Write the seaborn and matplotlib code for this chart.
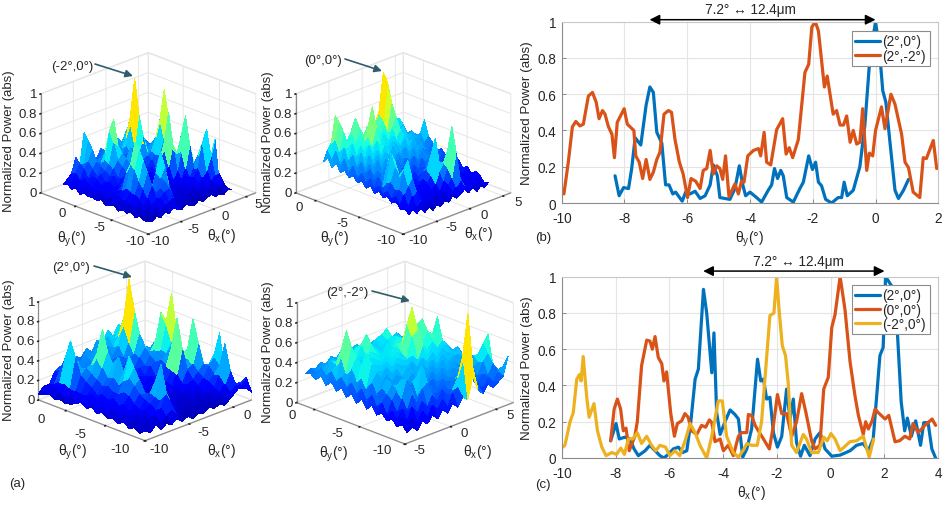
import numpy as np
import matplotlib
matplotlib.use("Agg")
import matplotlib.pyplot as plt
from matplotlib.colors import Normalize
from mpl_toolkits.mplot3d import proj3d
import seaborn as sns

# ---------- panel (b) ----------
b_blue_x = [-8.3,-8.17,-8.03,-7.87,-7.77,-7.66,-7.48,-7.31,-7.19,-7.08,-6.97,-6.81,-6.69,-6.58,-6.46,-6.37,-6.16,-6.05,-5.91,-5.75,-5.59,-5.43,-5.27,-5.17,-5.04,-4.96,-4.8,-4.64,-4.48,-4.34,-4.23,-4.14,-4,-3.79,-3.63,-3.42,-3.31,-3.22,-3.12,-3.02,-2.94,-2.83,-2.62,-2.41,-2.3,-2.13,-2.01,-1.91,-1.82,-1.72,-1.59,-1.4,-1.19,-1.08,-1,-.9,-.71,-.5,-.34,-.18,0,.12,.23,.33,.46,.62,.73,.89,1.05]
b_blue_y = [.15,.04,.085,.08,.19,.36,.32,.54,.64,.61,.39,.33,.10,.10,.05,.06,.01,.06,.05,.065,.025,.04,.10,.21,.15,.03,.025,.02,.08,.205,.10,.04,.06,.03,.005,.07,.10,.19,.135,.18,.15,.03,.005,.08,.115,.26,.185,.225,.115,.095,.02,0,.03,.03,.115,.04,.07,.2,.43,.8,1,.85,.62,.555,.335,.07,.025,.07,.13]
b_orange_x = [-10,-9.93,-9.79,-9.66,-9.55,-9.42,-9.31,-9.15,-9.02,-8.9,-8.81,-8.7,-8.62,-8.51,-8.4,-8.32,-8.23,-8.01,-7.91,-7.7,-7.64,-7.53,-7.42,-7.31,-7.19,-7.08,-6.97,-6.87,-6.74,-6.6,-6.5,-6.39,-6.25,-6.13,-5.99,-5.88,-5.73,-5.59,-5.49,-5.38,-5.27,-5.17,-5.06,-4.96,-4.87,-4.78,-4.67,-4.48,-4.37,-4.27,-4.19,-4.07,-3.89,-3.73,-3.66,-3.55,-3.47,-3.34,-3.15,-2.96,-2.85,-2.75,-2.64,-2.46,-2.25,-2.13,-2.03,-1.92,-1.82,-1.63,-1.54,-1.35,-1.24,-1.13,-1.02,-.92,-.81,-.71,-.6,-.5,-.41,-.28,-.2,-.09,0,.19,.3,.49,.62,.83,.94,1.05,1.2,1.41,1.52,1.62,1.84,1.95]
b_orange_y = [.06,.05,.225,.42,.45,.425,.435,.59,.61,.555,.465,.51,.49,.42,.38,.25,.445,.52,.435,.4,.26,.225,.135,.24,.13,.17,.24,.28,.49,.51,.5,.35,.225,.16,.03,.135,.12,.08,.18,.19,.29,.16,.205,.19,.13,.26,.035,.105,.05,.12,.115,.26,.29,.3,.26,.39,.225,.21,.405,.465,.27,.305,.25,.35,.72,.765,.97,1.0,.95,.64,.7,.49,.51,.43,.43,.48,.335,.4,.325,.335,.52,.18,.275,.26,.4,.53,.41,.6,.545,.38,.225,.195,.06,.03,.25,.245,.345,.19]

# ---------- panel (c) ----------
c_blue_x = [-8.18,-7.98,-7.86,-7.65,-7.46,-7.31,-7.15,-6.9,-6.72,-6.59,-6.35,-6.2,-6.04,-5.85,-5.66,-5.51,-5.35,-5.2,-5.04,-4.92,-4.73,-4.61,-4.42,-4.34,-4.24,-4.11,-3.93,-3.74,-3.56,-3.43,-3.27,-3.12,-2.94,-2.88,-2.72,-2.6,-2.5,-2.38,-2.26,-2.13,-1.98,-1.82,-1.64,-1.51,-1.39,-1.27,-1.12,-.98,-.77,-.58,-.4,-.21,.04,.35,.72,.96,1.21,1.4,1.58,1.7,1.83,1.95,2.04,2.26,2.48,2.62,2.75,2.85,3,3.16,3.34,3.46,3.62,3.76,3.9]
c_blue_y = [.095,.19,.105,.115,.105,.05,.013,.04,.07,.05,.013,0,.02,.05,.06,.03,.04,.2,.435,.49,.93,.8,.47,.69,.25,.13,.2,.265,.24,.215,.005,.05,.16,.26,.545,.425,.435,.325,.335,.14,.06,.12,.38,.215,.325,.085,.01,.07,.013,.105,.14,.05,.01,.016,.04,.07,.08,.04,.105,.325,.565,.61,1.0,.95,.69,.31,.15,.22,.12,.205,.07,.195,.195,.05,0]
c_orange_x = [-8.18,-8.05,-7.93,-7.81,-7.71,-7.61,-7.49,-7.28,-7.19,-7.03,-6.84,-6.72,-6.63,-6.53,-6.41,-6.28,-6.2,-6.1,-5.95,-5.81,-5.7,-5.54,-5.42,-5.3,-5.17,-4.98,-4.8,-4.65,-4.51,-4.42,-4.3,-4.11,-3.99,-3.81,-3.62,-3.43,-3.31,-3.12,-3.06,-2.94,-2.81,-2.69,-2.5,-2.28,-2.13,-1.98,-1.82,-1.64,-1.45,-1.27,-1.08,-.92,-.71,-.58,-.4,-.26,-.09,.04,.16,.35,.53,.72,.9,1.03,1.21,1.3,1.4,1.54,1.65,1.77,2.02,2.16,2.39,2.56,2.76,2.94,3.06,3.25,3.5,3.77,3.9]
c_orange_y = [.095,.27,.325,.27,.15,.165,.04,.12,.2,.51,.65,.645,.6,.67,.555,.52,.425,.475,.25,.12,.19,.205,.245,.225,.15,.13,.18,.17,.21,.195,.09,.105,.04,.07,.013,.12,.14,.14,.24,.235,.18,.15,.105,.05,.18,.35,.245,.245,.12,.2,.355,.25,.095,.05,.07,.38,.445,.72,.79,1.0,.82,.53,.345,.235,.13,.2,.16,.205,.27,.25,.215,.235,.09,.095,.12,.105,.19,.14,.18,.215,.18]
c_yellow_x = [-10,-9.88,-9.69,-9.57,-9.44,-9.34,-9.28,-9.2,-9.07,-8.98,-8.8,-8.67,-8.51,-8.35,-8.14,-7.96,-7.8,-7.67,-7.52,-7.36,-7.19,-7.03,-6.84,-6.66,-6.5,-6.35,-6.14,-5.98,-5.79,-5.61,-5.39,-5.23,-5.04,-4.86,-4.61,-4.42,-4.18,-4.03,-3.87,-3.62,-3.43,-3.22,-3.12,-2.94,-2.73,-2.57,-2.26,-2.11,-2.01,-1.92,-1.8,-1.68,-1.58,-1.45,-1.27,-1.02,-.9,-.71,-.46,-.26,-.13,.01,.16,.35,.72,.96,1.21,1.43,1.6]
c_yellow_y = [.055,.07,.2,.25,.435,.46,.425,.56,.335,.225,.3,.15,.06,.013,.03,.02,.055,.02,.105,.105,.14,.08,.12,.07,.04,.07,.06,.013,.04,.013,.105,.19,.14,.07,0,.12,.315,.315,.12,.03,.005,.05,.08,.07,.07,.2,.785,.8,1.0,.82,.62,.565,.415,.07,.03,.13,.105,.03,.03,.115,.095,.135,.105,.04,.09,.095,.12,.005,.105]

# ---------- surfaces: normalized power in percent, rows = theta_y, columns = theta_x ----------
surf_m2_0 = [
[6,4,8,5,9,6,10,7,5,9,6,4,8,5,7,9,5,6,4,8,6],
[5,9,6,11,7,12,14,16,8,6,10,7,5,9,6,8,11,7,9,12,5],
[8,6,12,9,14,18,22,24,13,9,7,11,8,6,10,12,7,13,10,20,8],
[5,11,7,13,10,16,24,30,20,10,12,7,10,8,13,9,14,8,12,16,6],
[9,6,12,10,16,26,18,32,42,22,9,13,7,12,9,15,11,16,22,34,50],
[6,10,8,14,24,38,20,36,55,30,14,10,12,9,14,10,16,24,48,60,30],
[8,12,10,18,30,48,22,18,34,16,11,14,8,13,10,18,14,22,34,40,16],
[5,9,13,20,40,58,26,14,16,12,15,9,12,10,16,12,22,44,24,16,10],
[9,12,11,22,44,65,30,16,12,14,10,14,11,15,12,20,38,72,30,14,8],
[7,10,14,18,34,42,24,12,15,11,13,10,16,12,24,44,34,50,24,16,11],
[6,13,10,15,20,26,16,14,11,16,12,15,13,18,40,75,36,24,18,12,7],
[10,8,14,12,16,18,14,18,22,14,16,13,18,16,28,44,30,20,22,14,9],
[7,12,11,16,13,15,20,24,30,26,18,16,14,20,18,30,44,62,28,16,10],
[9,14,13,12,18,22,18,28,34,45,24,18,22,18,24,28,60,90,40,20,8],
[8,11,16,14,16,20,26,32,38,30,22,26,20,24,26,30,42,58,30,18,11],
[10,13,12,18,22,24,30,50,45,24,28,22,26,30,45,28,34,30,24,16,9],
[7,15,14,20,18,26,32,60,70,34,26,30,28,36,65,34,30,26,22,18,12],
[12,10,18,16,24,30,28,36,44,30,32,26,34,55,100,50,36,30,26,20,10],
[9,16,14,24,30,40,26,30,28,34,28,36,30,40,60,36,42,34,28,22,14],
[13,12,20,28,26,48,30,24,30,26,34,30,38,32,38,44,38,46,30,24,11],
[10,14,18,33,24,55,28,26,24,32,28,38,30,36,30,40,46,42,36,20,13]]
surf_0_0 = [
[10,14,8,12,6,10,5,9,6,10,7,12,8,11,14,9,13,7,11,8,12],
[14,9,16,10,14,8,12,7,13,6,11,9,13,16,22,14,10,12,8,14,10],
[12,18,11,20,24,12,16,10,9,14,8,13,17,24,48,20,12,15,10,13,15],
[18,13,22,30,36,18,14,12,16,10,15,11,20,32,72,30,18,11,14,12,18],
[15,20,26,44,52,22,18,13,10,15,12,18,30,36,46,24,16,18,12,16,14],
[20,16,24,36,40,26,15,18,14,11,17,24,60,34,30,28,20,14,17,13,20],
[17,22,30,42,34,20,22,14,18,15,20,28,42,26,32,22,18,20,15,19,16],
[22,18,28,55,46,28,18,22,15,20,16,24,28,32,24,28,24,16,22,16,23],
[18,24,22,40,38,32,26,20,24,18,24,18,26,22,30,25,20,26,18,24,18],
[24,20,30,28,34,26,34,28,22,26,20,28,22,32,26,34,30,22,28,20,25],
[20,28,24,32,28,36,28,32,36,24,30,24,34,28,36,28,24,32,24,28,22],
[26,22,34,26,40,30,38,34,30,38,26,32,28,38,30,36,32,26,34,22,28],
[22,30,28,36,32,42,34,42,36,32,36,30,40,32,40,30,38,30,26,32,24],
[28,24,38,30,42,34,44,36,46,34,42,34,32,44,34,42,32,36,32,26,30],
[24,34,30,44,36,48,38,50,44,48,36,44,38,36,46,36,40,30,36,30,35],
[30,26,42,38,48,40,46,42,60,40,46,36,46,40,48,42,34,40,32,38,50],
[26,38,34,50,42,50,40,52,80,50,40,48,38,50,60,38,44,34,40,34,30],
[34,30,46,44,46,42,52,46,58,44,50,42,50,46,72,46,36,44,34,36,32],
[28,42,40,58,44,52,44,56,48,52,44,52,42,56,92,44,48,38,42,30,34],
[36,32,52,66,46,42,50,65,46,42,48,40,50,60,100,52,38,46,36,40,30],
[30,40,46,72,44,48,42,50,44,50,40,48,42,48,60,44,48,38,44,45,36]]
surf_2_0 = [
[10,6,12,5,9,6,10,5,8,4,7,5,9,6,8,5,10,14,20,25,8],
[5,11,7,10,6,12,16,9,5,8,6,10,5,8,6,10,7,12,16,18,10],
[9,6,10,7,13,18,30,18,9,6,9,5,8,6,9,7,11,18,30,14,7],
[6,12,8,12,9,14,22,26,14,8,6,10,7,10,7,12,14,26,55,24,9],
[11,7,13,9,14,18,24,55,24,11,9,7,11,8,12,9,18,24,30,18,6],
[7,13,9,15,12,20,26,36,20,10,12,9,8,12,10,14,20,30,36,60,12],
[10,8,14,11,16,24,22,18,14,12,8,11,13,9,16,18,24,30,28,36,10],
[8,14,10,16,22,30,34,20,12,9,13,10,9,14,14,26,30,50,26,16,8],
[12,9,15,13,24,36,44,22,14,12,9,14,12,12,22,46,34,72,26,14,10],
[9,14,12,18,20,32,55,24,12,10,14,11,16,14,24,75,34,40,20,12,7],
[13,10,16,14,20,26,36,26,16,13,11,15,13,20,26,44,30,26,18,10,9],
[10,15,13,18,24,30,50,30,18,12,16,13,18,16,30,34,44,50,20,12,8],
[14,11,18,15,22,28,40,34,24,16,14,18,16,24,26,36,60,90,36,14,10],
[11,16,14,20,26,36,50,32,28,20,18,16,22,22,30,34,70,60,28,16,7],
[8,9,14,24,30,44,72,40,26,24,22,24,20,28,36,30,40,36,24,12,9],
[7,11,15,28,34,36,46,30,32,28,24,22,28,30,48,34,30,26,18,14,8],
[9,8,16,44,32,26,34,36,30,34,28,30,26,40,70,38,28,22,20,10,7],
[7,11,18,60,36,28,32,30,36,30,34,28,36,55,100,48,30,24,16,12,9],
[10,14,18,40,30,34,28,34,32,36,30,36,32,42,58,42,36,20,18,9,6],
[8,16,14,26,24,28,32,26,36,30,36,32,42,36,40,44,30,24,14,10,8],
[6,12,11,22,26,22,28,30,26,34,28,38,34,44,36,46,28,22,16,8,7]]
surf_2_m2 = [
[8,12,6,14,9,16,10,18,12,20,14,22,18,40,24,18,26,20,24,28,46],
[14,8,16,10,20,12,22,16,24,14,26,30,60,100,44,24,20,28,22,30,34],
[10,18,12,24,16,26,18,28,20,30,22,26,36,52,30,28,24,30,26,36,28],
[16,12,22,18,32,22,34,38,26,24,30,24,30,34,28,34,30,26,38,44,30],
[12,20,16,28,45,30,24,55,32,28,24,32,28,30,34,28,36,32,36,52,60],
[18,14,26,34,44,28,36,42,36,24,32,28,34,28,36,32,28,36,40,40,42],
[14,24,30,38,36,32,28,34,30,34,26,36,30,36,30,38,34,30,34,30,36],
[22,18,34,42,30,36,32,30,38,32,38,30,38,32,40,32,36,40,36,38,32],
[16,28,26,36,34,28,38,34,42,36,30,40,32,40,34,42,32,36,42,30,36],
[24,20,36,44,32,38,30,40,36,34,42,34,42,36,44,36,44,38,34,40,30],
[18,30,28,50,40,34,42,34,42,38,36,44,38,50,38,46,36,44,40,34,36],
[26,24,38,60,44,38,36,44,36,44,40,38,60,66,48,40,46,38,44,38,30],
[20,32,32,46,36,44,40,38,46,40,46,42,70,85,56,44,50,44,66,36,34],
[28,26,42,52,42,36,46,42,38,46,38,48,50,62,44,50,42,50,46,42,30],
[22,34,36,60,38,44,38,48,44,40,46,40,46,44,50,40,52,62,48,36,34],
[30,28,50,75,46,40,44,40,50,42,38,46,40,48,42,48,44,54,42,40,28],
[24,36,40,54,42,48,38,50,60,46,42,36,44,40,46,42,48,42,46,34,32],
[32,30,42,40,44,38,44,46,48,40,38,44,38,42,44,40,36,44,36,38,26],
[26,36,34,40,36,42,40,38,42,36,44,38,42,46,50,38,42,34,38,30,30],
[30,28,36,32,38,34,38,36,38,40,36,40,36,40,38,42,36,38,32,34,24],
[28,32,30,34,30,36,32,38,34,36,38,34,38,34,36,34,38,30,34,28,26]]

sns.set_theme(style="white")
plt.rcParams.update({
    "font.family": ["Liberation Sans", "DejaVu Sans"],
    "axes.unicode_minus": False,
    "mathtext.default": "regular",
    "font.size": 9.5,
})
W, H = 950, 506
fig = plt.figure(figsize=(W / 100, H / 100), dpi=100)
TXT = "#262626"
AX = "#8c8c8c"


def fx(x):
    return x / W


def fy(y):
    return 1 - y / H


def ptext(x, y, s, **kw):
    kw.setdefault("ha", "center")
    kw.setdefault("va", "center")
    kw.setdefault("fontsize", 9.5)
    kw.setdefault("color", TXT)
    fig.text(fx(x), fy(y), s, **kw)


def surface(Z, xr, yr, xlim, ylim, xticks, yticks, corners, xoff, yoff, dy):
    ax = fig.add_axes([0.1, 0.1, 0.25, 0.4], projection="3d", proj_type="ortho")
    Z = np.array(Z) / 100
    xs = np.linspace(xr[0], xr[1], Z.shape[1])
    ys = np.linspace(yr[0], yr[1], Z.shape[0])
    X, Y = np.meshgrid(xs, ys)
    # colour of a facet: its mean height, pulled up on steep peaks so the tips stay hot
    corners_z = np.stack([Z[:-1, :-1], Z[1:, :-1], Z[:-1, 1:], Z[1:, 1:]])
    face = np.maximum(corners_z.mean(0), corners_z.max(0) - 0.2)
    vals = np.zeros_like(Z)
    vals[:-1, :-1] = face
    colors = plt.get_cmap("jet")(Normalize(0, 1.2)(vals))
    ax.plot_surface(X, Y, Z, rstride=1, cstride=1, facecolors=colors,
                    linewidth=0, antialiased=False, shade=False)
    ax.set_xlim(*xlim)
    ax.set_ylim(*ylim)
    ax.set_zlim(0, 1)
    ax.set_xticks(xticks)
    ax.set_yticks(yticks)
    zticks = [0, .2, .4, .6, .8, 1]
    zlabels = ["0", "0.2", "0.4", "0.6", "0.8", "1"]
    ax.set_zticks(zticks)
    ax.set_xticklabels([])
    ax.set_yticklabels([])
    ax.set_zticklabels([])
    ax.view_init(elev=22.5, azim=-135)
    ax.set_box_aspect((1, 1, .705))
    for a in (ax.xaxis, ax.yaxis, ax.zaxis):
        a.set_pane_color((1, 1, 1, 1))
        a.pane.set_edgecolor("#e6e6e6")
        a._axinfo["grid"].update(color="#e6e6e6", linewidth=0.7)
        a._axinfo["tick"].update(inward_factor=0.1, outward_factor=0.0)
        a.line.set_color(AX)
        a.line.set_linewidth(0.9)
    ax.patch.set_alpha(0)
    left, front, right = corners

    def proj(p):
        xp, yp, _ = proj3d.proj_transform(p[0], p[1], p[2], ax.get_proj())
        return ax.transData.transform((xp, yp))
    for _ in range(3):
        fig.canvas.draw()
        pl = proj((xlim[0], ylim[1], 0))
        pf = proj((xlim[0], ylim[0], 0))
        pr = proj((xlim[1], ylim[0], 0))
        s = (right[0] - left[0]) / (pr[0] - pl[0])
        pos = ax.get_position(original=True)
        cx = pos.x0 + pos.width / 2
        cy = pos.y0 + pos.height / 2
        ccx, ccy = cx * W, cy * H
        nfx = ccx + (pf[0] - ccx) * s
        nfy = ccy + (pf[1] - ccy) * s
        ddx = front[0] - nfx
        ddy = (H - front[1]) - nfy
        w, h = pos.width * s, pos.height * s
        ax.set_position([cx - w / 2 + ddx / W, cy - h / 2 + ddy / H, w, h])
    fig.canvas.draw()
    # tick labels as figure text next to the projected tick positions
    for t in xticks:
        p = proj((t, ylim[0], 0))
        ptext(p[0] + xoff, H - p[1] + dy, str(t))
    for t in yticks:
        p = proj((xlim[0], t, 0))
        ptext(p[0] + yoff, H - p[1] + dy, str(t))
    for t, lab in zip(zticks, zlabels):
        p = proj((xlim[0], ylim[1], t))
        ptext(p[0] - 3.5, H - p[1], lab, ha="right")
    return ax


surface(surf_m2_0, (-8.7, 4.2), (-8.8, 2.9), (-10, 6.5), (-10, 4.8), [-10, -5, 0, 5], [-10, -5, 0],
        ((41.7, 194), (148.3, 235), (256.7, 194)), 12, -13, 7)
surface(surf_0_0, (-7.7, 4.3), (-8.9, 0.9), (-10, 6.2), (-10, 2.3), [-10, -5, 0, 5], [-10, -5, 0],
        ((295, 194), (403.3, 235), (510, 194)), 15, -17, 6)
surface(surf_2_0, (-10, 2.1), (-10, 3.5), (-10, 2.1), (-10, 3.5), [-10, -5, 0], [-10, -5, 0],
        ((40, 401.7), (145, 441.7), (253, 401.7)), 14, -25, 8)
surface(surf_2_m2, (-4.4, 6.7), (-9.64, 1.58), (-5, 6.9), (-10, 2), [-5, 0, 5], [-10, -5, 0],
        ((295, 403.3), (405, 445), (511.7, 403.3)), 14, -23, 6)

YL = "Normalized Power (abs)"
for x, y in [(9.5, 141), (268, 142), (9.5, 350), (268, 352)]:
    ptext(x, y, YL, rotation=90)
for x, y in [(72, 239), (335, 239), (73, 452), (334, 454)]:
    ptext(x, y, "θ$_y$(°)", fontsize=10)
for x, y in [(222, 236), (479, 234), (222, 451), (478, 452)]:
    ptext(x, y, "θ$_x$(°)", fontsize=10)

arrow_col = "#2f5d6b"
for s, tx, ty, a0, a1 in [
    ("(-2°,0°)", 72, 67, (95, 65), (133, 77)),
    ("(0°,0°)", 323, 61, (345, 60), (382, 72)),
    ("(2°,0°)", 71, 268, (94, 267), (132, 278)),
    ("(2°,-2°)", 347, 293, (372, 292), (410, 302)),
]:
    ptext(tx, ty, s)
    fig.add_artist(matplotlib.patches.FancyArrowPatch(
        (fx(a0[0]), fy(a0[1])), (fx(a1[0]), fy(a1[1])), transform=fig.transFigure,
        arrowstyle="-|>", mutation_scale=11, color=arrow_col, linewidth=1.2, shrinkA=0, shrinkB=0))


def line_panel(rect, xlim, xticks, series, ann, ann_text_x, legend_bbox):
    l, t, r, b = rect
    ax = fig.add_axes([fx(l), fy(b), (r - l) / W, (b - t) / H])
    for x, y, c, lab in series:
        sns.lineplot(x=x, y=y, ax=ax, color=c, linewidth=2.3, label=lab, sort=False,
                     estimator=None, errorbar=None)
    ax.set_xlim(*xlim)
    ax.set_ylim(0, 1)
    ax.set_xticks(xticks)
    ax.set_xticklabels([str(v) for v in xticks])
    ax.set_yticks([0, .2, .4, .6, .8, 1])
    ax.set_yticklabels(["0", "0.2", "0.4", "0.6", "0.8", "1"])
    ax.grid(True, color="#e4e4e4", linewidth=0.8)
    ax.set_axisbelow(True)
    ax.tick_params(direction="in", length=3, width=0.7, color=AX, labelsize=9.8,
                   labelcolor=TXT, bottom=True, left=True)
    ax.tick_params(axis="x", pad=5.5)
    ax.tick_params(axis="y", pad=4)
    for sp in ax.spines.values():
        sp.set_color(AX)
        sp.set_linewidth(0.8)
    ax.spines["top"].set_color("#c8c8c8")
    ax.spines["right"].set_color("#c8c8c8")
    ax.annotate("", xy=(ann[0], ann[2]), xytext=(ann[1], ann[2]),
                xycoords="data", annotation_clip=False,
                arrowprops=dict(arrowstyle="<|-|>", mutation_scale=15, color="black",
                                linewidth=1.1, shrinkA=0, shrinkB=0))
    ax.text(ann_text_x, ann[2] + 0.018, "7.2° ↔ 12.4μm", ha="center", va="bottom",
            fontsize=9.8, color=TXT, clip_on=False)
    leg = ax.legend(loc="upper right", bbox_to_anchor=legend_bbox,
                    bbox_transform=fig.transFigure, fontsize=9.8, frameon=True, fancybox=False,
                    framealpha=1, edgecolor="#8c8c8c", labelspacing=0.02, handlelength=1.8,
                    handletextpad=0.2, borderpad=0.25, borderaxespad=0)
    leg.get_frame().set_linewidth(0.8)
    for t_ in leg.get_texts():
        t_.set_color(TXT)
    return ax


BLUE, ORANGE, YELLOW = "#0072BD", "#D95319", "#EDB120"
line_panel((561.7, 22.7, 938.3, 204), (-10, 2), [-10, -8, -6, -4, -2, 0, 2],
           [(b_blue_x, b_blue_y, BLUE, "(2°,0°)"), (b_orange_x, b_orange_y, ORANGE, "(2°,-2°)")],
           (-7.2, 0, 1.011), -4.0, (fx(929.5), fy(32)))
line_panel((561.7, 277.7, 938.3, 459), (-10, 4), [-10, -8, -6, -4, -2, 0, 2, 4],
           [(c_blue_x, c_blue_y, BLUE, "(2°,0°)"), (c_orange_x, c_orange_y, ORANGE, "(0°,0°)"),
            (c_yellow_x, c_yellow_y, YELLOW, "(-2°,0°)")],
           (-4.74, 2, 1.031), -1.2, (fx(929.5), fy(286)))

ptext(527, 113, YL, rotation=90, fontsize=9.6)
ptext(527, 368, YL, rotation=90, fontsize=9.6)
ptext(750, 239, "θ$_y$(°)", fontsize=10)
ptext(752, 493, "θ$_x$(°)", fontsize=10)
ptext(543, 238, "(b)")
ptext(543, 485, "(c)")
ptext(17, 484, "(a)")

fig.savefig("out.png", dpi=100)
